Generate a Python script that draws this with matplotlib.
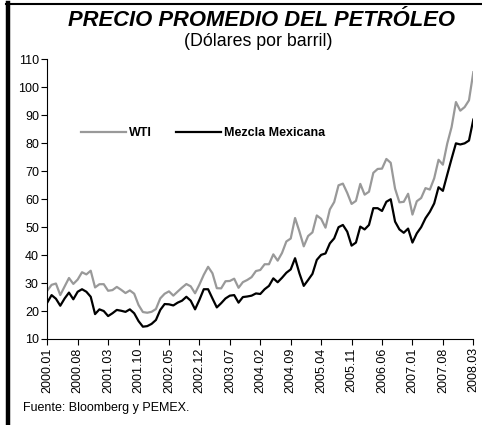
import matplotlib.pyplot as plt
from matplotlib.lines import Line2D

plt.rcParams['font.family'] = ['Liberation Sans', 'DejaVu Sans']

years = ["2000", "2001", "2002", "2003", "2004", "2005", "2006", "2007", "2008"]
months = ["%s.%02d" % (y, m) for y in years for m in range(1, 13)][:99]

wti = [
    27.26, 29.37, 29.84, 25.72, 28.79, 31.82, 29.70, 31.26, 33.88, 33.11, 34.42, 28.44,
    29.59, 29.61, 27.25, 27.49, 28.63, 27.60, 26.43, 27.37, 26.20, 22.17, 19.64, 19.39,
    19.72, 20.72, 24.53, 26.18, 27.04, 25.52, 26.97, 28.39, 29.66, 28.84, 26.35, 29.46,
    32.95, 35.83, 33.51, 28.17, 28.11, 30.66, 30.76, 31.57, 28.31, 30.34, 31.11, 32.13,
    34.31, 34.69, 36.74, 36.75, 40.28, 38.03, 40.78, 44.90, 45.94, 53.28, 48.47, 43.15,
    46.84, 48.15, 54.19, 52.98, 49.83, 56.35, 59.00, 64.99, 65.59, 62.26, 58.32, 59.41,
    65.49, 61.63, 62.69, 69.44, 70.84, 70.95, 74.41, 73.04, 63.80, 58.89, 59.08, 61.96,
    54.51, 59.28, 60.44, 63.98, 63.46, 67.49, 74.12, 72.36, 79.92, 85.80, 94.77, 91.69,
    92.97, 95.39, 105.45,
]

mezcla = [
    23.0, 25.7, 24.4, 21.9, 24.5, 26.6, 24.2, 26.9, 27.8, 26.9, 25.1, 18.9,
    20.6, 20.0, 18.2, 19.2, 20.4, 20.1, 19.7, 20.6, 19.2, 16.4, 14.4, 14.6,
    15.4, 16.8, 20.4, 22.5, 22.4, 22.0, 23.0, 23.7, 25.1, 23.7, 20.6, 24.0,
    27.8, 27.8, 24.5, 21.3, 22.8, 24.5, 25.5, 25.7, 23.0, 25.0, 25.2, 25.5,
    26.3, 26.1, 27.8, 29.0, 31.7, 30.3, 31.9, 33.7, 34.9, 38.9, 33.5, 29.0,
    31.1, 33.3, 38.3, 40.1, 40.6, 44.2, 46.0, 50.0, 50.8, 48.4, 43.4, 44.5,
    50.2, 49.2, 50.8, 56.8, 56.8, 55.8, 59.1, 60.0, 52.0, 49.2, 48.0, 49.5,
    44.5, 47.8, 50.0, 53.2, 55.5, 58.5, 64.3, 63.0, 68.8, 74.5, 80.0, 79.6,
    80.0, 81.0, 88.5,
]

fig = plt.figure(figsize=(4.82, 4.25), dpi=100)
ax = fig.add_axes([0.098, 0.2024, 0.884, 0.6576])

x = list(range(len(months)))
ax.plot(x, wti, color="#999999", lw=1.6, label="WTI")
ax.plot(x, mezcla, color="black", lw=1.6, label="Mezcla Mexicana")

ax.set_ylim(10, 110)
ax.set_yticks(range(10, 111, 10))
ax.set_xlim(0, len(months) - 1)
ax.set_xticks(x[::7])
ax.set_xticklabels(months[::7], rotation=90)
ax.tick_params(direction="out", length=4, width=0.8, labelsize=9, pad=2)
for s in ["top", "right"]:
    ax.spines[s].set_visible(False)

leg = ax.legend(loc="center", bbox_to_anchor=(0.366, 0.737), ncol=2, frameon=False,
                handlelength=3.6, handletextpad=0.25, columnspacing=1.9,
                prop={"weight": "bold", "size": 9})

fig.text(0.542, 0.951, "PRECIO PROMEDIO DEL PETRÓLEO", ha="center", va="center",
         fontsize=15.8, fontweight="bold", fontstyle="italic")
fig.text(0.535, 0.902, "(Dólares por barril)", ha="center", va="center", fontsize=12.8)
fig.text(0.048, 0.04, "Fuente: Bloomberg y PEMEX.", ha="left", va="center", fontsize=9)

# marco
fig.add_artist(Line2D([7.5, 7.5], [0, 422], transform=None, color="black", lw=3.2))
fig.add_artist(Line2D([6, 482], [421.5, 421.5], transform=None, color="black", lw=1.5))

fig.savefig("out.png", dpi=100)
